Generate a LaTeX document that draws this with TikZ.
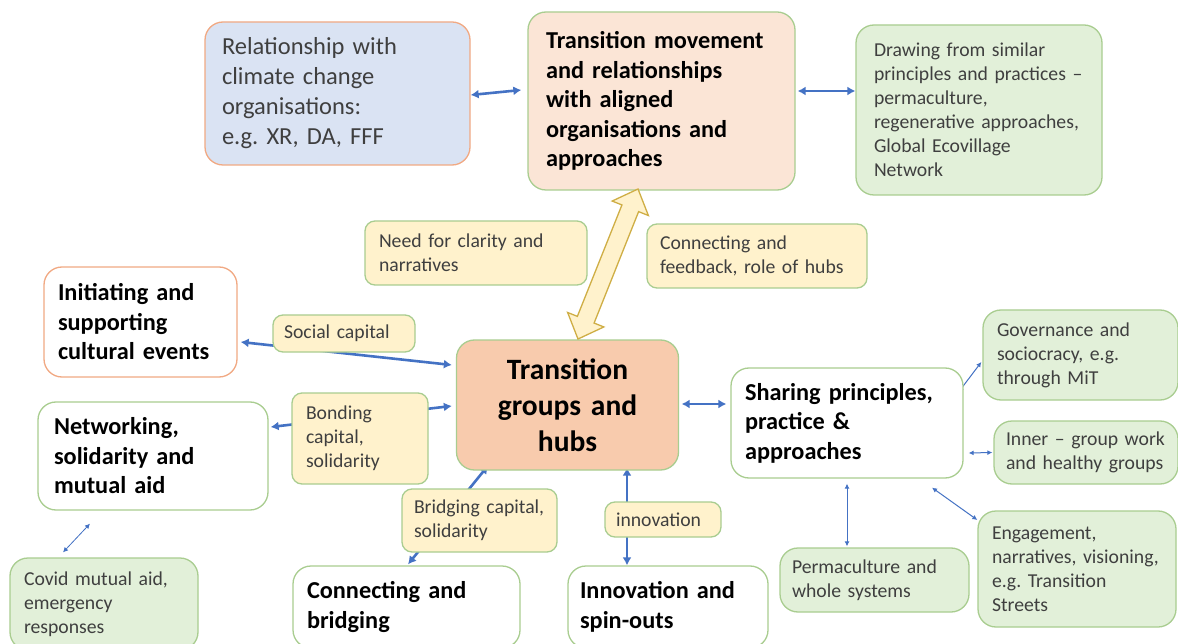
\documentclass[tikz,border=0pt]{standalone}
\usepackage{fontspec}
\setmainfont{Carlito}
\usetikzlibrary{arrows.meta,calc,backgrounds}
\frenchspacing
\definecolor{ablue}{HTML}{4472C4}
\definecolor{oborder}{HTML}{F1A983}
\definecolor{gborder}{HTML}{A9CD90}
\definecolor{gfill}{HTML}{E2F0D9}
\definecolor{yfill}{HTML}{FFF2CC}
\definecolor{pfill}{HTML}{FBE5D6}
\definecolor{hfill}{HTML}{F8CBAD}
\definecolor{bfill}{HTML}{DAE3F3}
\definecolor{gold}{HTML}{CFAE45}
\definecolor{tgray}{HTML}{3F3F3F}
\newcommand\ftreg{\fontsize{24.5pt}{30pt}\selectfont}
\newcommand\ftsmall{\fontsize{19.7pt}{24pt}\selectfont}
\newcommand\ftbold{\fontsize{24.3pt}{29.5pt}\selectfont\bfseries}
\newcommand\fthub{\fontsize{29.5pt}{36pt}\selectfont\bfseries}
\tikzset{
  box/.style={draw, line width=1.3pt, rounded corners=18pt, align=left, inner ysep=0pt},
  lbl/.style={draw=gborder, line width=1.3pt, rounded corners=10pt, align=left, inner ysep=0pt, fill=yfill, font=\ftsmall, text=tgray},
  gbox/.style={box, draw=gborder, fill=gfill, font=\ftsmall, text=tgray},
  wbox/.style={box, draw=gborder, fill=white, font=\ftbold, text=black},
  barrow/.style={draw=ablue, line width=2.6pt, {Latex[length=8pt,width=9pt]}-{Latex[length=8pt,width=9pt]}},
  tarrow/.style={draw=ablue, line width=1pt, {Latex[length=5pt,width=5pt]}-{Latex[length=5pt,width=5pt]}},
}
\begin{document}
\begin{tikzpicture}[x=1pt,y=1pt]
\clip (0,0) rectangle (1178,-644);
\useasboundingbox (0,0) rectangle (1178,-644);

% top row
\node[box, draw=oborder, fill=bfill, font=\ftreg, text=tgray, minimum height=143, text width=231, inner xsep=17] (rel) at (337.5,-93.5)
  {Relationship with\\climate change\\organisations:\\e.g. XR, DA, FFF};
\node[box, draw=gborder, fill=pfill, font=\ftbold, minimum height=178, text width=231, inner xsep=18] (tm) at (661.5,-101)
  {Transition movement\\and relationships\\with aligned\\organisations and\\approaches};
\node[gbox, minimum height=170, text width=210, inner xsep=18] (drw) at (979,-110)
  {Drawing from similar\\principles and practices –\\permaculture,\\regenerative approaches,\\Global Ecovillage\\Network};

% labels
\node[lbl, minimum height=64, text width=194, inner xsep=14] (need) at (476,-253) {Need for clarity and\\narratives};
\node[lbl, minimum height=64, text width=194, inner xsep=13] (conn) at (757,-256) {Connecting and\\feedback, role of hubs};
\node[lbl, minimum height=37, text width=120, inner xsep=11] (social) at (344,-333.5) {Social capital};
\node[lbl, minimum height=91, text width=108, inner xsep=14] (bond) at (360,-438.5) {Bonding\\capital,\\solidarity};
\node[lbl, minimum height=63, text width=131, inner xsep=12] (bridge) at (479.5,-520.5) {Bridging capital,\\solidarity};
\node[lbl, minimum height=35, text width=94, inner xsep=11] (innov) at (663,-519.5) {innovation};

% middle
\node[wbox, draw=oborder, minimum height=110, text width=165, inner xsep=14] (init) at (140.5,-322)
  {Initiating and\\supporting\\cultural events};
\node[box, draw=gborder, fill=hfill, font=\fthub, align=center, minimum height=130, text width=200, inner xsep=11] (hubs) at (567.5,-405)
  {Transition\\groups and\\hubs};
\node[wbox, minimum height=110, text width=204, inner xsep=14] (share) at (847,-423)
  {Sharing principles,\\practice \&\\approaches};
\node[wbox, minimum height=108, text width=198, inner xsep=16] (net) at (153,-456)
  {Networking,\\solidarity and\\mutual aid};

% right column
\node[gbox, minimum height=90, text width=167, inner xsep=14] (gov) at (1080.5,-355) {Governance and\\sociocracy, e.g.\\through MiT};
\node[gbox, minimum height=63, text width=160, inner xsep=12] (inner) at (1086,-452.5) {Inner – group work\\and healthy groups};
\node[gbox, minimum height=116, text width=170, inner xsep=14] (eng) at (1077,-569) {Engagement,\\narratives, visioning,\\e.g. Transition\\Streets};
\node[gbox, minimum height=64, text width=165, inner xsep=12] (perm) at (874.5,-580) {Permaculture and\\whole systems};

% bottom row
\node[wbox, minimum height=82, text width=199, inner xsep=14] (cb) at (406.5,-607) {Connecting and\\bridging};
\node[wbox, minimum height=82, text width=176, inner xsep=12] (isp) at (668,-607) {Innovation and\\spin-outs};
\node[gbox, minimum height=92, text width=160, inner xsep=14] (covid) at (104,-604) {Covid mutual aid,\\emergency\\responses};

% block double arrow between hubs and movement
\begin{scope}[shift={(608,-264)}, rotate=68.2]
\draw[draw=gold, fill=yfill, line width=1.3pt, line join=miter]
  (-80.8,0) -- (-60,19.5) -- (-60,9) -- (60,9) -- (60,19.5) -- (80.8,0)
  -- (60,-19.5) -- (60,-9) -- (-60,-9) -- (-60,-19.5) -- cycle;
\end{scope}

% connectors
\begin{pgfonlayer}{background}
\fill[white] (0,0) rectangle (1178,-644);
\draw[barrow] ($(rel.east)+(0,-1.5)$) -- ($(tm.west)+(-6,11)$);
\draw[barrow] ($(tm.east)+(2,10)$) -- ($(drw.west)+(0,19)$);
\draw[barrow] ($(init.east)+(3,-20)$) -- ($(hubs.west)+(-4,40)$);
\draw[barrow] ($(hubs.west)+(-4,-1)$) -- ($(net.east)+(2,29)$);
\draw[barrow] ($(hubs.south)+(-79.5,5)$) -- ($(cb.north)+(1.5,1)$);
\draw[barrow] ($(hubs.south)+(59.5,3)$) -- ($(isp.north)+(-41,0)$);
\draw[barrow] ($(hubs.east)+(2.5,1)$) -- ($(share.west)+(-4,19)$);
\draw[tarrow] ($(share.east)+(-5,31)$) -- ($(gov.west)+(-1,-7)$);
\draw[tarrow] ($(share.east)+(5,-30)$) -- ($(inner.west)+(-1,0)$);
\draw[tarrow] ($(share.south)+(85,-9)$) -- ($(eng.west)+(0,49)$);
\draw[tarrow] ($(share.south)+(0,-5)$) -- ($(perm.north)+(-27.5,1)$);
\draw[tarrow, line width=0.8pt] ($(net.south)+(-63,-13)$) -- ($(covid.north)+(-41,5)$);
\end{pgfonlayer}
\end{tikzpicture}
\end{document}
